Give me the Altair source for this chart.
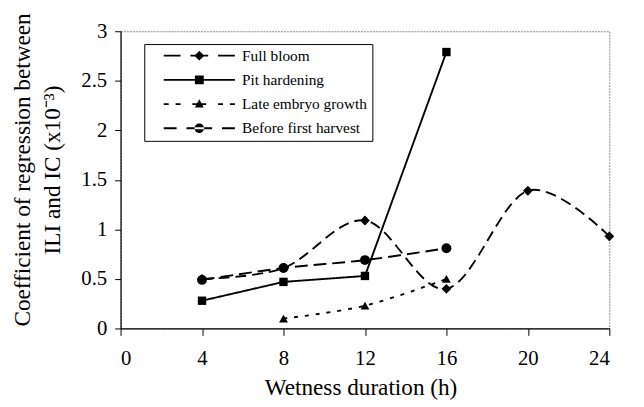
import altair as alt
import pandas as pd

FONT = "Liberation Serif"

series_names = ["Full bloom", "Pit hardening", "Late embryo growth", "Before first harvest"]
full_bloom_x = [4, 8, 12, 16, 20, 24]
full_bloom_y = [0.50, 0.61, 1.09, 0.40, 1.39, 0.93]
pit_x = [4, 8, 12, 16]
pit_y = [0.28, 0.47, 0.53, 2.79]
late_x = [8, 12, 16]
late_y = [0.10, 0.23, 0.50]
before_x = [4, 8, 12, 16]
before_y = [0.49, 0.61, 0.69, 0.81]
x_ticks = [0, 4, 8, 12, 16, 20, 24]
y_ticks = [0, 0.5, 1, 1.5, 2, 2.5, 3]

rows = []
for name, xs, ys in zip(series_names,
                        [full_bloom_x, pit_x, late_x, before_x],
                        [full_bloom_y, pit_y, late_y, before_y]):
    for xv, yv in zip(xs, ys):
        rows.append({"series": name, "x": xv, "y": yv})
df = pd.DataFrame(rows)

styles = {
    "Full bloom": dict(dash=[11, 6], interp="cardinal", shape="diamond", size=100),
    "Pit hardening": dict(dash=[1, 0], interp="linear", shape="square", size=72),
    "Late embryo growth": dict(dash=[4, 7], interp="cardinal", shape="triangle-up", size=80),
    "Before first harvest": dict(dash=[13, 6], interp="cardinal", shape="circle", size=100),
}

x_enc = alt.X("x:Q", scale=alt.Scale(domain=[0, 24], nice=False),
              axis=alt.Axis(values=x_ticks, title="Wetness duration (h)",
                            tickSize=7, labelPadding=12,
                            labelFont=FONT, labelFontSize=21,
                            titleX=243, titleY=67, titleBaseline="alphabetic"))
y_enc = alt.Y("y:Q", scale=alt.Scale(domain=[0, 3], nice=False),
              axis=alt.Axis(values=y_ticks, format="~g",
                            title=["Coefficient of regression between", "ILI and IC (x10⁻³)"],
                            tickSize=6, labelPadding=8, titleFontSize=23.5,
                            labelFont=FONT, labelFontSize=21,
                            titleX=-99, titleY=140, titleAngle=270,
                            titleBaseline="middle", titleAlign="center", titleLineHeight=30))

# legend symbols: line + marker composite, drawn as filled shapes (pixel units / 5)
K = 5.0
H = 0.9  # half line thickness in px

def seg(a, b):
    a += 8
    b += 8
    return (f"M{a/K:.2f},{-H/K:.2f}L{b/K:.2f},{-H/K:.2f}"
            f"L{b/K:.2f},{H/K:.2f}L{a/K:.2f},{H/K:.2f}Z")

def segs(lst):
    return "".join(seg(a, b) for a, b in lst)

c = 44  # marker centre (px from symbol centre)
diamond = f"M{c/K:.2f},{-5/K:.2f}L{(c+5)/K:.2f},0L{c/K:.2f},{5/K:.2f}L{(c-5)/K:.2f},0Z"
square = (f"M{(c-4.5)/K:.2f},{-4.5/K:.2f}L{(c+4.5)/K:.2f},{-4.5/K:.2f}"
          f"L{(c+4.5)/K:.2f},{4.5/K:.2f}L{(c-4.5)/K:.2f},{4.5/K:.2f}Z")
tri = f"M{c/K:.2f},{-5/K:.2f}L{(c+4.5)/K:.2f},{3.5/K:.2f}L{(c-4.5)/K:.2f},{3.5/K:.2f}Z"
r = 4.8
circle = (f"M{(c-r)/K:.2f},0A{r/K:.2f},{r/K:.2f} 0 1,0 {(c+r)/K:.2f},0"
          f"A{r/K:.2f},{r/K:.2f} 0 1,0 {(c-r)/K:.2f},0Z")
extent = "M43.05,0"

paths = [
    segs([(0, 17), (27, 45), (55, 72)]) + diamond + extent,
    segs([(0, 72)]) + square + extent,
    segs([(0, 5), (12, 17), (29, 43), (55, 60), (67, 72)]) + tri + extent,
    segs([(0, 13), (23, 49), (59, 72)]) + circle + extent,
]

layers = []
for name in series_names:
    st = styles[name]
    sub = alt.Chart(df).transform_filter(alt.datum.series == name)
    layers.append(sub.mark_line(interpolate=st["interp"], strokeDash=st["dash"],
                                color="black", strokeWidth=1.9).encode(x=x_enc, y=y_enc))
for name in series_names:
    st = styles[name]
    sub = alt.Chart(df).transform_filter(alt.datum.series == name)
    layers.append(sub.mark_point(shape=st["shape"], filled=True, color="black",
                                 size=st["size"], opacity=1).encode(x=x_enc, y=y_enc))

legend_layer = alt.Chart(df).transform_filter("false").mark_point(
    filled=True, color="black", size=100, opacity=1
).encode(
    x=x_enc, y=y_enc,
    shape=alt.Shape("series:N", scale=alt.Scale(domain=series_names, range=paths),
                    legend=alt.Legend(title=None, orient="none", legendX=24, legendY=13,
                                      padding=4, strokeColor="black", fillColor="white",
                                      labelFont=FONT, labelFontSize=15.5, labelColor="black",
                                      labelOffset=79.5, rowPadding=7.5, symbolSize=100,
                                      symbolStrokeWidth=0, symbolFillColor="black",
                                      symbolOpacity=1))
)
layers.append(legend_layer)

chart = alt.layer(*layers).properties(
    width=495, height=301,
    autosize=alt.AutoSizeParams(type="none"),
    padding={"left": 114, "top": 21, "right": 27, "bottom": 77},
).configure(
    font=FONT,
    style={"guide-label": {"font": FONT}, "guide-title": {"font": FONT}},
).configure_view(
    stroke="#8a8a8a", strokeDash=[2, 1]
).configure_axis(
    grid=False, domainColor="black", tickColor="black", domainWidth=1.2,
    labelFont=FONT, labelFontSize=21, labelColor="black",
    titleFont=FONT, titleFontSize=23.5, titleFontWeight="normal", titleColor="black",
).configure_legend(
    labelFont=FONT
)

chart.save("out.html", embed_options={"renderer": "svg", "actions": False})
